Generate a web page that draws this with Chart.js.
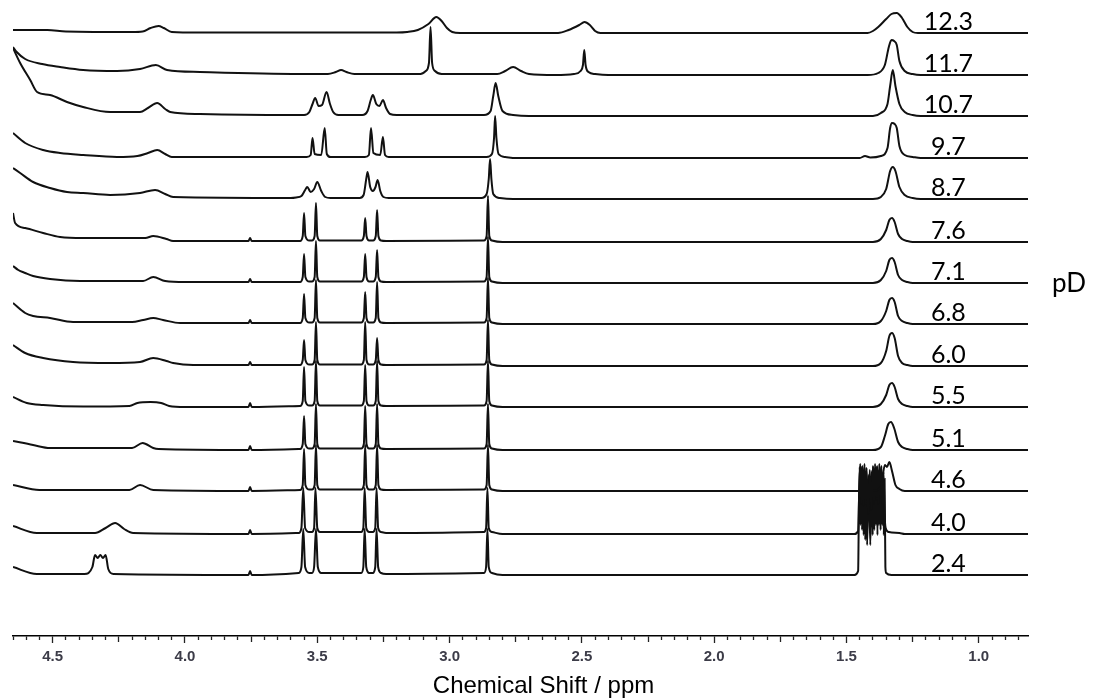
<!DOCTYPE html>
<html lang="en">
<head>
    <meta charset="UTF-8">
    <title>pD titration 1H NMR</title>
    <script src="https://cdn.jsdelivr.net/npm/chart.js"></script>
    <style>
        body { margin: 0; background: #fff; }
        canvas { display: block; }
    </style>
</head>
<body>
    <canvas id="nmrChart" width="1095" height="698"></canvas>

    <script>
        // pD of each sample, top trace first
        const pD = ['12.3', '11.7', '10.7', '9.7', '8.7', '7.6', '7.1', '6.8', '6.0', '5.5', '5.1', '4.6', '4.0', '2.4'];

        // vertical stacking offset of each trace (intensity units)
        const offsets = [603, 561, 520, 478, 437, 394, 353, 312, 270, 229, 186, 145, 102, 61];

        // x axis range in ppm and tick step
        const ppmMin = 0.814;
        const ppmMax = 4.65;
        const ppmStep = 0.05;
        const xTitle = 'Chemical Shift / ppm';

        // spectra as [ppm, intensity] pairs
        const s123 = [[4.65,3],[4.52,3],[4.45,1.5],[4.20,1],[4.16,1.5],[4.13,5],[4.10,7],[4.08,5],[4.05,1],[3.95,0.5],[3.20,0.5],
            [3.16,1],[3.12,3],[3.08,9],[3.05,16],[3.03,12],[3.01,5],[2.99,1],[2.96,0],
            [2.59,0],[2.55,3],[2.51,8],[2.49,11],[2.47,8],[2.45,2],[2.43,0],
            [1.42,0],[1.40,2],[1.38,6],[1.35,14],[1.33,19],[1.31,20],[1.29,15],[1.27,6],[1.25,1],[1.23,0],[0.814,0]];
        const s117 = [[4.65,28],[4.636,23],[4.604,16],[4.54,11],[4.472,8],[4.385,5],[4.257,4],[4.17,6],[4.11,10],[4.068,5],[3.943,3],[3.565,1],
            [3.46,1],[3.43,3],[3.41,5],[3.39,3],[3.36,1],
            [3.11,1],[3.09,4],[3.078,12],[3.072,48],[3.066,12],[3.055,4],[3.03,1],
            [2.82,1],[2.79,4],[2.76,8],[2.73,4],[2.70,1],[2.60,0],
            [2.53,1],[2.505,4],[2.496,10],[2.491,25],[2.486,10],[2.475,3],[2.45,1],[2.40,0],
            [1.42,0],[1.38,2],[1.355,10],[1.34,28],[1.33,35],[1.32,34],[1.31,30],[1.30,14],[1.28,4],[1.25,1],[1.22,0],[0.814,0]];
        const s107 = [[4.65,68],[4.623,53],[4.585,36],[4.559,24],[4.51,21],[4.446,14],[4.385,9],[4.283,4],[4.17,4],[4.14,8],[4.105,13],[4.075,7],[4.056,4],[3.943,2],[3.60,1],
            [3.55,1],[3.53,4],[3.518,12],[3.508,18],[3.495,10],[3.482,11],[3.465,24],[3.452,12],[3.44,4],[3.42,1],
            [3.33,1],[3.31,5],[3.298,16],[3.29,21],[3.277,12],[3.265,10],[3.252,16],[3.24,8],[3.225,2],[3.20,1],
            [2.87,1],[2.845,5],[2.835,20],[2.826,33],[2.816,20],[2.80,5],[2.76,1],[2.70,0],
            [1.40,0],[1.37,3],[1.345,12],[1.335,30],[1.325,46],[1.315,30],[1.30,12],[1.28,4],[1.25,1],[1.22,0],[0.814,0]];
        const s97 = [[4.65,25],[4.604,15],[4.536,8],[4.472,5],[4.385,3],[4.257,1],[4.18,2],[4.14,5],[4.105,8],[4.075,4],[4.05,1],[3.565,1],
            [3.54,1],[3.525,3],[3.518,20],[3.51,4],[3.485,3],[3.472,30],[3.464,4],[3.45,1],
            [3.32,1],[3.305,3],[3.297,30],[3.288,5],[3.262,3],[3.252,21],[3.244,3],[3.23,1],
            [2.86,1],[2.84,4],[2.832,20],[2.828,42],[2.823,20],[2.815,4],[2.79,1],[2.75,0],
            [1.45,0],[1.43,2],[1.41,0.5],[1.37,2],[1.345,10],[1.335,30],[1.328,35],[1.318,34],[1.31,30],[1.30,12],[1.28,3],[1.25,1],[1.22,0],[0.814,0]];
        const s87 = [[4.65,31],[4.623,26],[4.574,17],[4.51,11],[4.446,7],[4.385,6],[4.283,4],[4.17,6],[4.113,9],[4.075,5],[4.045,2],[3.60,1],
            [3.58,1.5],[3.56,3],[3.546,9],[3.538,12],[3.525,7],[3.512,10],[3.50,17],[3.485,8],[3.47,2],[3.45,1],
            [3.34,1],[3.325,4],[3.315,20],[3.31,27],[3.30,12],[3.29,8],[3.28,12],[3.272,19],[3.262,8],[3.25,2],[3.23,1],
            [2.88,1],[2.86,5],[2.852,20],[2.847,40],[2.842,20],[2.835,5],[2.81,1],[2.76,0],
            [1.40,0],[1.37,2],[1.35,10],[1.335,28],[1.325,32],[1.315,28],[1.30,12],[1.28,4],[1.25,1],[1.22,0],[0.814,0]];
        const s76 = [[4.65,29],[4.642,19],[4.604,14],[4.536,9],[4.472,5],[4.385,4],[4.15,4],[4.12,6],[4.07,3],[4.045,1],[3.76,1],[3.754,4],[3.748,1],
            [3.565,1],[3.555,6],[3.55,29],[3.545,6],[3.53,1.5],[3.52,1.5],[3.51,6],[3.505,39],[3.50,6],[3.49,1.5],
            [3.334,1.5],[3.324,6],[3.319,24],[3.314,6],[3.304,1.5],[3.289,1.5],[3.279,6],[3.274,32],[3.269,6],[3.259,1.5],[3.24,1],
            [2.87,1.5],[2.86,6],[2.855,46],[2.85,6],[2.84,1.5],[2.80,0],
            [1.40,0],[1.37,3],[1.35,12],[1.338,22],[1.328,24],[1.318,20],[1.305,8],[1.29,3],[1.27,1],[1.25,0],[0.814,0]];
        const s71 = [[4.65,17],[4.63,13],[4.604,10],[4.574,7],[4.51,4],[4.396,2],[4.158,2],[4.12,6],[4.075,2],[4.0,1],[3.76,1],[3.754,4],[3.748,1],
            [3.565,1],[3.555,6],[3.55,29],[3.545,6],[3.53,1.5],[3.52,1.5],[3.51,6],[3.505,42],[3.50,6],[3.49,1.5],
            [3.334,1.5],[3.324,6],[3.319,29],[3.314,6],[3.304,1.5],[3.289,1.5],[3.279,6],[3.274,33],[3.269,6],[3.259,1.5],[3.24,1],
            [2.87,1.5],[2.86,6],[2.855,46],[2.85,6],[2.84,1.5],[2.80,0],
            [1.40,0],[1.37,3],[1.35,12],[1.338,23],[1.328,25],[1.318,21],[1.305,8],[1.29,3],[1.27,1],[1.25,0],[0.814,0]];
        const s68 = [[4.65,21],[4.604,11],[4.574,8],[4.51,6],[4.423,2],[4.20,2],[4.158,4],[4.12,6],[4.083,4],[4.018,1],[3.76,1],[3.754,4],[3.748,1],
            [3.565,1],[3.555,6],[3.55,30],[3.545,6],[3.53,1.5],[3.52,1.5],[3.51,6],[3.505,44],[3.50,6],[3.49,1.5],
            [3.334,1.5],[3.324,6],[3.319,32],[3.314,6],[3.304,1.5],[3.289,1.5],[3.279,6],[3.274,42],[3.269,6],[3.259,1.5],[3.24,1],
            [2.87,1.5],[2.86,6],[2.855,46],[2.85,6],[2.84,1.5],[2.80,0],
            [1.40,0],[1.37,3],[1.35,13],[1.338,24],[1.328,26],[1.318,22],[1.305,8],[1.29,3],[1.27,1],[1.25,0],[0.814,0]];
        const s60 = [[4.65,21],[4.604,13],[4.536,8],[4.423,4],[4.283,3],[4.17,4],[4.12,8],[4.07,5],[4.045,3],[3.969,1],[3.76,1],[3.754,4],[3.748,1],
            [3.565,1],[3.555,6],[3.55,26],[3.545,6],[3.53,1.5],[3.52,1.5],[3.51,6],[3.505,44],[3.50,6],[3.49,1.5],
            [3.334,1.5],[3.324,6],[3.319,44],[3.314,6],[3.304,1.5],[3.289,1.5],[3.279,6],[3.274,28],[3.269,6],[3.259,1.5],[3.24,1],
            [2.87,1.5],[2.86,6],[2.855,46],[2.85,6],[2.84,1.5],[2.80,0],
            [1.40,0],[1.37,3],[1.35,15],[1.338,30],[1.328,33],[1.318,28],[1.305,10],[1.29,3],[1.27,1],[1.25,0],[0.814,0]];
        const s55 = [[4.65,10],[4.598,4],[4.536,2],[4.385,0.5],[4.21,1],[4.18,4],[4.13,5],[4.09,4],[4.06,1],[4.0,0],[3.76,0],[3.754,4],[3.748,0],
            [3.565,1],[3.555,6],[3.55,40],[3.545,6],[3.53,1.5],[3.52,1.5],[3.51,6],[3.505,46],[3.50,6],[3.49,1.5],
            [3.334,1.5],[3.324,6],[3.319,42],[3.314,6],[3.304,1.5],[3.289,1.5],[3.279,6],[3.274,46],[3.269,6],[3.259,1.5],[3.24,1],
            [2.87,1.5],[2.86,6],[2.855,46],[2.85,6],[2.84,1.5],[2.80,0],
            [1.40,0],[1.37,3],[1.35,12],[1.338,22],[1.328,24],[1.318,20],[1.305,8],[1.29,3],[1.27,1],[1.25,0],[0.814,0]];
        const s51 = [[4.65,9],[4.574,5],[4.51,2],[4.20,2],[4.16,7],[4.12,2],[4.10,1],[3.76,0],[3.754,4],[3.748,0],
            [3.565,1],[3.555,6],[3.55,34],[3.545,6],[3.53,1.5],[3.52,1.5],[3.51,6],[3.505,46],[3.50,6],[3.49,1.5],
            [3.334,1.5],[3.324,6],[3.319,44],[3.314,6],[3.304,1.5],[3.289,1.5],[3.279,6],[3.274,46],[3.269,6],[3.259,1.5],[3.24,1],
            [2.87,1.5],[2.86,6],[2.855,46],[2.85,6],[2.84,1.5],[2.80,0],
            [1.40,0],[1.37,3],[1.355,14],[1.342,26],[1.332,28],[1.32,22],[1.305,8],[1.29,3],[1.27,1],[1.25,0],[0.814,0]];
        const s46 = [[4.65,6],[4.55,1],[4.21,1],[4.17,6],[4.12,1],[3.76,0],[3.754,4],[3.748,0],
            [3.565,1],[3.555,6],[3.55,42],[3.545,6],[3.53,1.5],[3.52,1.5],[3.51,6],[3.505,46],[3.50,6],[3.49,1.5],
            [3.334,1.5],[3.324,6],[3.319,46],[3.314,6],[3.304,1.5],[3.289,1.5],[3.279,6],[3.274,46],[3.269,6],[3.259,1.5],[3.24,1],
            [2.87,1.5],[2.86,6],[2.855,46],[2.85,6],[2.84,1.5],[2.80,0],
            [1.40,0],[1.37,4],[1.355,26],[1.347,24],[1.338,29],[1.328,20],[1.315,6],[1.30,2],[1.28,0],[0.814,0]];
        // lactate CH3 multiplet at low pD is drawn as a dense line cluster
        const s40 = [[4.65,8],[4.56,1],[4.34,1],[4.30,6],[4.264,11],[4.23,5],[4.196,1],[3.76,0],[3.754,4],[3.748,0],
            [3.57,1],[3.56,6],[3.553,46],[3.546,6],[3.53,2],[3.52,2],[3.512,6],[3.507,46],[3.50,6],[3.49,2],
            [3.334,2],[3.326,6],[3.321,46],[3.315,6],[3.304,2],[3.29,2],[3.281,6],[3.276,46],[3.27,6],[3.259,2],[3.24,1],
            [2.87,2],[2.862,6],[2.857,46],[2.852,6],[2.84,2],[2.80,0],
            [1.47,0],[1.456,3],[1.452,40],[1.448,70],[1.444,30],[1.440,68],[1.436,28],[1.432,70],[1.428,30],[1.424,66],
            [1.418,20],[1.412,64],[1.406,24],[1.400,68],[1.396,30],[1.392,70],[1.388,34],[1.384,68],[1.380,30],[1.376,70],
            [1.372,36],[1.368,68],[1.364,30],[1.360,62],[1.356,20],[1.352,6],[1.34,2],[1.30,1],[1.28,0],[0.814,0]];
        const s24 = [[4.65,8],[4.56,1],[4.38,1],[4.35,8],[4.34,20],[4.33,17],[4.32,20],[4.31,17],[4.30,20],[4.29,6],[4.27,1],[3.76,0],[3.754,4],[3.748,0],
            [3.57,2],[3.56,8],[3.553,46],[3.546,8],[3.53,2],[3.52,2],[3.512,8],[3.505,46],[3.498,8],[3.485,2],
            [3.334,2],[3.326,8],[3.321,46],[3.315,8],[3.304,2],[3.29,2],[3.281,8],[3.276,46],[3.27,8],[3.259,2],[3.24,1],
            [2.87,2],[2.862,8],[2.857,46],[2.852,8],[2.84,2],[2.80,0],
            [1.47,0],[1.456,4],[1.453,70],[1.450,108],[1.447,50],[1.444,108],[1.441,45],[1.438,106],[1.435,40],[1.432,108],
            [1.429,35],[1.426,104],[1.422,30],[1.416,100],[1.410,30],[1.404,104],[1.401,40],[1.398,108],[1.395,45],[1.392,106],
            [1.389,50],[1.386,108],[1.383,40],[1.380,104],[1.377,50],[1.374,108],[1.371,45],[1.368,104],[1.365,50],[1.362,100],
            [1.359,40],[1.356,96],[1.353,8],[1.35,2],[1.33,0],[0.814,0]];

        const spectra = [s123, s117, s107, s97, s87, s76, s71, s68, s60, s55, s51, s46, s40, s24];

        // pD labels next to each trace, the caption on the right and the x axis title
        const traceLabels = {
            id: 'traceLabels',
            afterDatasetsDraw(chart) {
                const { ctx, chartArea, scales: { x, y } } = chart;
                ctx.save();
                ctx.fillStyle = '#000';
                ctx.textAlign = 'center';
                ctx.textBaseline = 'alphabetic';
                ctx.font = '25px Lato, "Noto Sans", sans-serif';
                const lx = x.getPixelForValue(1.115);
                pD.forEach((t, i) => {
                    ctx.fillText(t, lx, y.getPixelForValue(offsets[i]) - 3);
                });
                ctx.font = '26px Lato, "Noto Sans", sans-serif';
                ctx.fillText('pD', chartArea.right + 41, y.getPixelForValue(offsets[6]) + 9);

                ctx.font = '24px "Liberation Sans", Arial, sans-serif';
                ctx.fillText(xTitle, x.getPixelForValue(2.645), chart.height - 5);
                ctx.restore();
            }
        };

        const isMultiple = (v, step) => Math.abs(v / step - Math.round(v / step)) < 1e-6;

        const ctx = document.getElementById('nmrChart').getContext('2d');
        new Chart(ctx, {
            type: 'line',
            data: {
                datasets: spectra.map((s, i) => ({
                    label: 'pD ' + pD[i],
                    data: s.map(([ppm, h]) => ({ x: ppm, y: offsets[i] + h })),
                    borderColor: '#111',
                    borderWidth: 2,
                    pointRadius: 0,
                    cubicInterpolationMode: 'monotone',
                    fill: false
                }))
            },
            options: {
                responsive: false,
                animation: false,
                events: [],
                // bottom padding leaves room for the axis title drawn by the plugin
                layout: { padding: { left: 13, right: 67, top: 5, bottom: 27 } },
                plugins: {
                    legend: { display: false },
                    tooltip: { enabled: false }
                },
                scales: {
                    x: {
                        type: 'linear',
                        reverse: true,
                        min: ppmMin,
                        max: ppmMax,
                        border: { display: true, color: '#000', width: 1.5 },
                        grid: {
                            drawOnChartArea: false,
                            drawTicks: true,
                            tickLength: 7,
                            tickColor: '#222',
                            tickWidth: 1.3,
                            // short minor ticks, longer quarter and half ppm ticks
                            tickBorderDash: (c) => {
                                const v = c.tick ? c.tick.value : 0;
                                if (isMultiple(v, 0.5)) return [];
                                if (isMultiple(v, 0.25)) return [5.5, 20];
                                return [3.5, 20];
                            }
                        },
                        ticks: {
                            stepSize: ppmStep,
                            autoSkip: false,
                            includeBounds: false,
                            maxRotation: 0,
                            padding: 5,
                            color: '#3c3c48',
                            font: { family: '"Liberation Sans", Arial, sans-serif', size: 15, weight: 'bold' },
                            callback: (v) => isMultiple(v, 0.5) ? v.toFixed(1) : ''
                        },
                        title: { display: false }
                    },
                    y: {
                        display: false,
                        min: 0,
                        max: 631
                    }
                }
            },
            plugins: [traceLabels]
        });
    </script>
</body>
</html>
